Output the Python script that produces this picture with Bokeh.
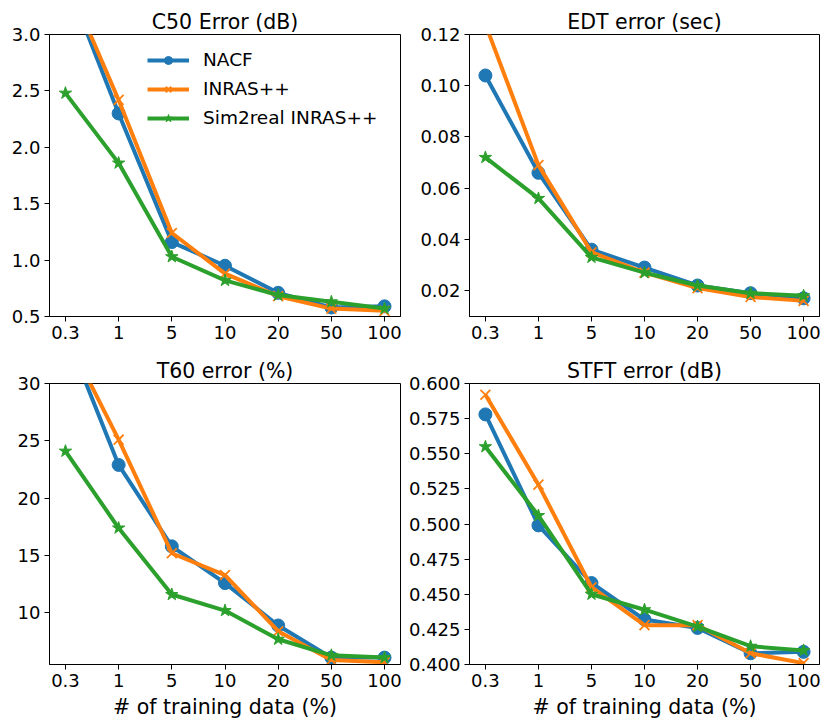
from bokeh.plotting import figure
from bokeh.layouts import gridplot
from bokeh.models import FixedTicker, PrintfTickFormatter, Range1d, Legend, LegendItem
from bokeh.embed import file_html
from bokeh.resources import INLINE

x_labels = ["0.3", "1", "5", "10", "20", "50", "100"]
series_names = ["NACF", "INRAS++", "Sim2real INRAS++"]

c50_nacf = [3.50, 2.30, 1.16, 0.95, 0.71, 0.58, 0.59]
c50_inras = [3.51, 2.42, 1.24, 0.88, 0.68, 0.57, 0.55]
c50_sim = [2.48, 1.86, 1.03, 0.82, 0.69, 0.63, 0.57]

edt_nacf = [0.104, 0.066, 0.036, 0.029, 0.022, 0.019, 0.017]
edt_inras = [0.124, 0.069, 0.035, 0.027, 0.021, 0.0175, 0.016]
edt_sim = [0.072, 0.056, 0.033, 0.027, 0.022, 0.019, 0.018]

t60_nacf = [34.5, 22.9, 15.8, 12.6, 8.9, 6.1, 6.1]
t60_inras = [34.3, 25.1, 15.2, 13.3, 8.4, 5.9, 5.7]
t60_sim = [24.1, 17.4, 11.6, 10.2, 7.7, 6.3, 6.1]

stft_nacf = [0.578, 0.499, 0.458, 0.432, 0.426, 0.408, 0.409]
stft_inras = [0.592, 0.528, 0.455, 0.428, 0.428, 0.408, 0.401]
stft_sim = [0.555, 0.506, 0.450, 0.439, 0.427, 0.413, 0.410]

titles = ["C50 Error (dB)", "EDT error (sec)", "T60 error (%)", "STFT error (dB)"]
y_ranges = [(0.5, 3.0), (0.0099, 0.12), (5.5, 30.0), (0.4, 0.6)]
y_ticks = [
    [0.5, 1.0, 1.5, 2.0, 2.5, 3.0],
    [0.02, 0.04, 0.06, 0.08, 0.10, 0.12],
    [10, 15, 20, 25, 30],
    [0.400, 0.425, 0.450, 0.475, 0.500, 0.525, 0.550, 0.575, 0.600],
]
y_formats = ["%.1f", "%.2f", "%d", "%.3f"]
xlabel = "# of training data (%)"

colors = ["#1f77b4", "#ff7f0e", "#2ca02c"]
markers = ["circle", "x", "star"]
msizes = [13, 14, 13]
FONT = "DejaVu Sans"

data = [
    [c50_nacf, c50_inras, c50_sim],
    [edt_nacf, edt_inras, edt_sim],
    [t60_nacf, t60_inras, t60_sim],
    [stft_nacf, stft_inras, stft_sim],
]

xs = list(range(len(x_labels)))

# (width, height, left, right, top, bottom)
geom = [
    (405, 348, 49, 5, 34, 32),
    (418, 348, 63, 4, 34, 32),
    (405, 378, 49, 5, 35, 62),
    (418, 378, 63, 4, 35, 62),
]

figs = []
for i in range(4):
    w, h, bl, br, bt, bb = geom[i]
    p = figure(width=w, height=h, output_backend="svg", toolbar_location=None,
               x_range=Range1d(-0.3, len(x_labels) - 0.7),
               y_range=Range1d(*y_ranges[i]),
               min_border_left=bl, min_border_right=br,
               min_border_top=bt, min_border_bottom=bb)
    p.title.text = titles[i]
    p.title.align = "center"
    p.title.text_font = FONT
    p.title.text_font_size = "20.5px"
    p.title.text_font_style = "normal"
    p.title.text_color = "black"
    p.title.standoff = 2
    p.grid.visible = False
    p.outline_line_color = "black"
    p.outline_line_width = 1
    p.outline_line_alpha = 1
    p.background_fill_color = "white"
    p.border_fill_color = "white"
    for ax in (p.xaxis[0], p.yaxis[0]):
        ax.major_tick_out = 5
        ax.major_tick_in = 0
        ax.minor_tick_out = 0
        ax.minor_tick_in = 0
        ax.major_label_text_font = FONT
        ax.major_label_text_font_size = "18px"
        ax.major_label_text_color = "black"
        ax.axis_line_color = "black"
        ax.major_tick_line_color = "black"
        ax.major_label_standoff = 4
    p.xaxis.ticker = FixedTicker(ticks=xs)
    p.xaxis.major_label_overrides = {k: lab for k, lab in zip(xs, x_labels)}
    p.yaxis.ticker = FixedTicker(ticks=y_ticks[i])
    p.yaxis.formatter = PrintfTickFormatter(format=y_formats[i])
    if i >= 2:
        p.xaxis.axis_label = xlabel
        p.xaxis.axis_label_text_font = FONT
        p.xaxis.axis_label_text_font_size = "20.5px"
        p.xaxis.axis_label_text_font_style = "normal"
        p.xaxis.axis_label_text_color = "black"
        p.xaxis.axis_label_standoff = 5

    items = []
    for k in range(3):
        lr = p.line(xs, data[i][k], line_color=colors[k], line_width=4)
        if markers[k] == "x":
            sr = p.scatter(xs, data[i][k], marker="x", size=msizes[k],
                           line_color=colors[k], line_width=1.8)
        else:
            sr = p.scatter(xs, data[i][k], marker=markers[k], size=msizes[k],
                           fill_color=colors[k], line_color=colors[k], line_width=1)
        items.append(LegendItem(label=series_names[k], renderers=[lr, sr]))
    if i == 0:
        leg = Legend(items=items, location=(98, 188))
        leg.border_line_color = None
        leg.background_fill_alpha = 0
        leg.padding = 0
        leg.margin = 0
        leg.spacing = 8
        leg.glyph_width = 42
        leg.glyph_height = 20
        leg.label_height = 20
        leg.label_standoff = 14
        leg.label_text_font = FONT
        leg.label_text_font_size = "18.5px"
        leg.label_text_color = "black"
        p.add_layout(leg)
    figs.append(p)

grid = gridplot([[figs[0], figs[1]], [figs[2], figs[3]]], toolbar_location=None)
open("out.html", "w").write(file_html(grid, INLINE))
